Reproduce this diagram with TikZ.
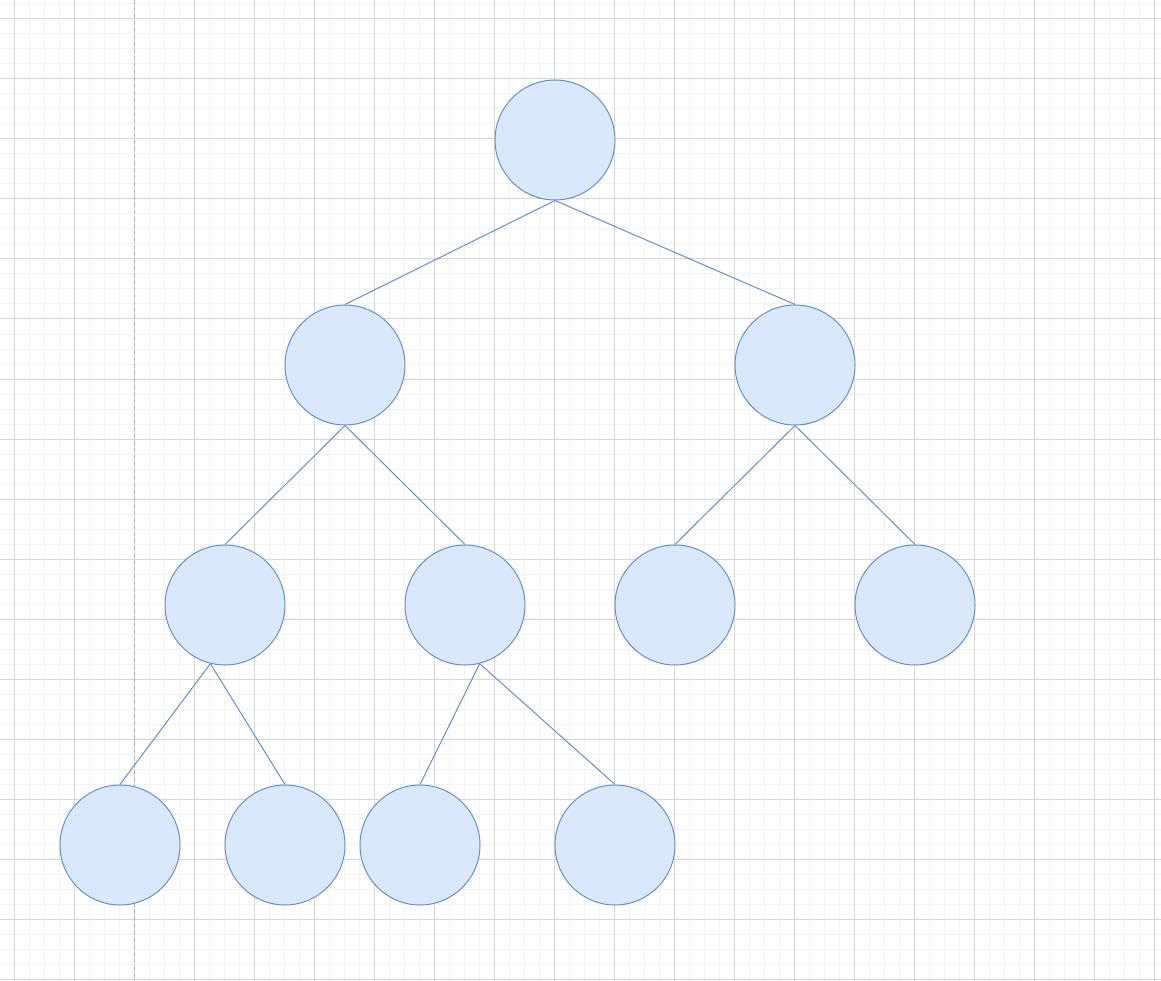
\documentclass[tikz,border=0pt]{standalone}
\definecolor{nodefill}{HTML}{DAE8FC}
\definecolor{nodeline}{HTML}{6C8EBF}
\definecolor{gridmajor}{HTML}{D6D6D6}
\definecolor{gridminor}{HTML}{F3F3F3}
\definecolor{pagebreak}{HTML}{B0B0B0}
\tikzset{
  treenode/.style={circle, draw=nodeline, fill=nodefill, line width=1pt, minimum size=120pt, inner sep=0pt},
  treeedge/.style={draw=nodeline, line width=1pt},
  minorline/.style={gridminor, line width=1pt},
  majorline/.style={gridmajor, line width=1pt},
}
\begin{document}
\begin{tikzpicture}[x=1pt, y=-1pt]
\useasboundingbox (0,0) rectangle (1161,981);
\fill[white] (0,0) rectangle (1161,981);
% minor grid
\foreach \i in {0,...,78} {
  \draw[minorline] ({-1+15*\i},0) -- ({-1+15*\i},981);
}
\foreach \j in {0,...,65} {
  \draw[minorline] (0,{4+15*\j}) -- (1161,{4+15*\j});
}
% major grid
\foreach \i in {0,...,19} {
  \draw[majorline] ({14+60*\i},0) -- ({14+60*\i},981);
}
\foreach \j in {0,...,16} {
  \draw[majorline] (0,{19+60*\j}) -- (1161,{19+60*\j});
}
% page break
\draw[pagebreak, line width=1pt, dash pattern=on 4pt off 3pt] (134,0) -- (134,981);

% nodes
\node[treenode] (r)  at (555,140) {};
\node[treenode] (a)  at (345,365) {};
\node[treenode] (b)  at (795,365) {};
\node[treenode] (a1) at (225,605) {};
\node[treenode] (a2) at (465,605) {};
\node[treenode] (b1) at (675,605) {};
\node[treenode] (b2) at (915,605) {};
\node[treenode] (c1) at (120,845) {};
\node[treenode] (c2) at (285,845) {};
\node[treenode] (c3) at (420,845) {};
\node[treenode] (c4) at (615,845) {};

% edges
\draw[treeedge] (r.south) -- (a.north);
\draw[treeedge] (r.south) -- (b.north);
\draw[treeedge] (a.south) -- (a1.north);
\draw[treeedge] (a.south) -- (a2.north);
\draw[treeedge] (b.south) -- (b1.north);
\draw[treeedge] (b.south) -- (b2.north);
\draw[treeedge] (a1.256) -- (c1.north);
\draw[treeedge] (a1.256) -- (c2.north);
\draw[treeedge] (a2.284) -- (c3.north);
\draw[treeedge] (a2.284) -- (c4.north);
\end{tikzpicture}
\end{document}
